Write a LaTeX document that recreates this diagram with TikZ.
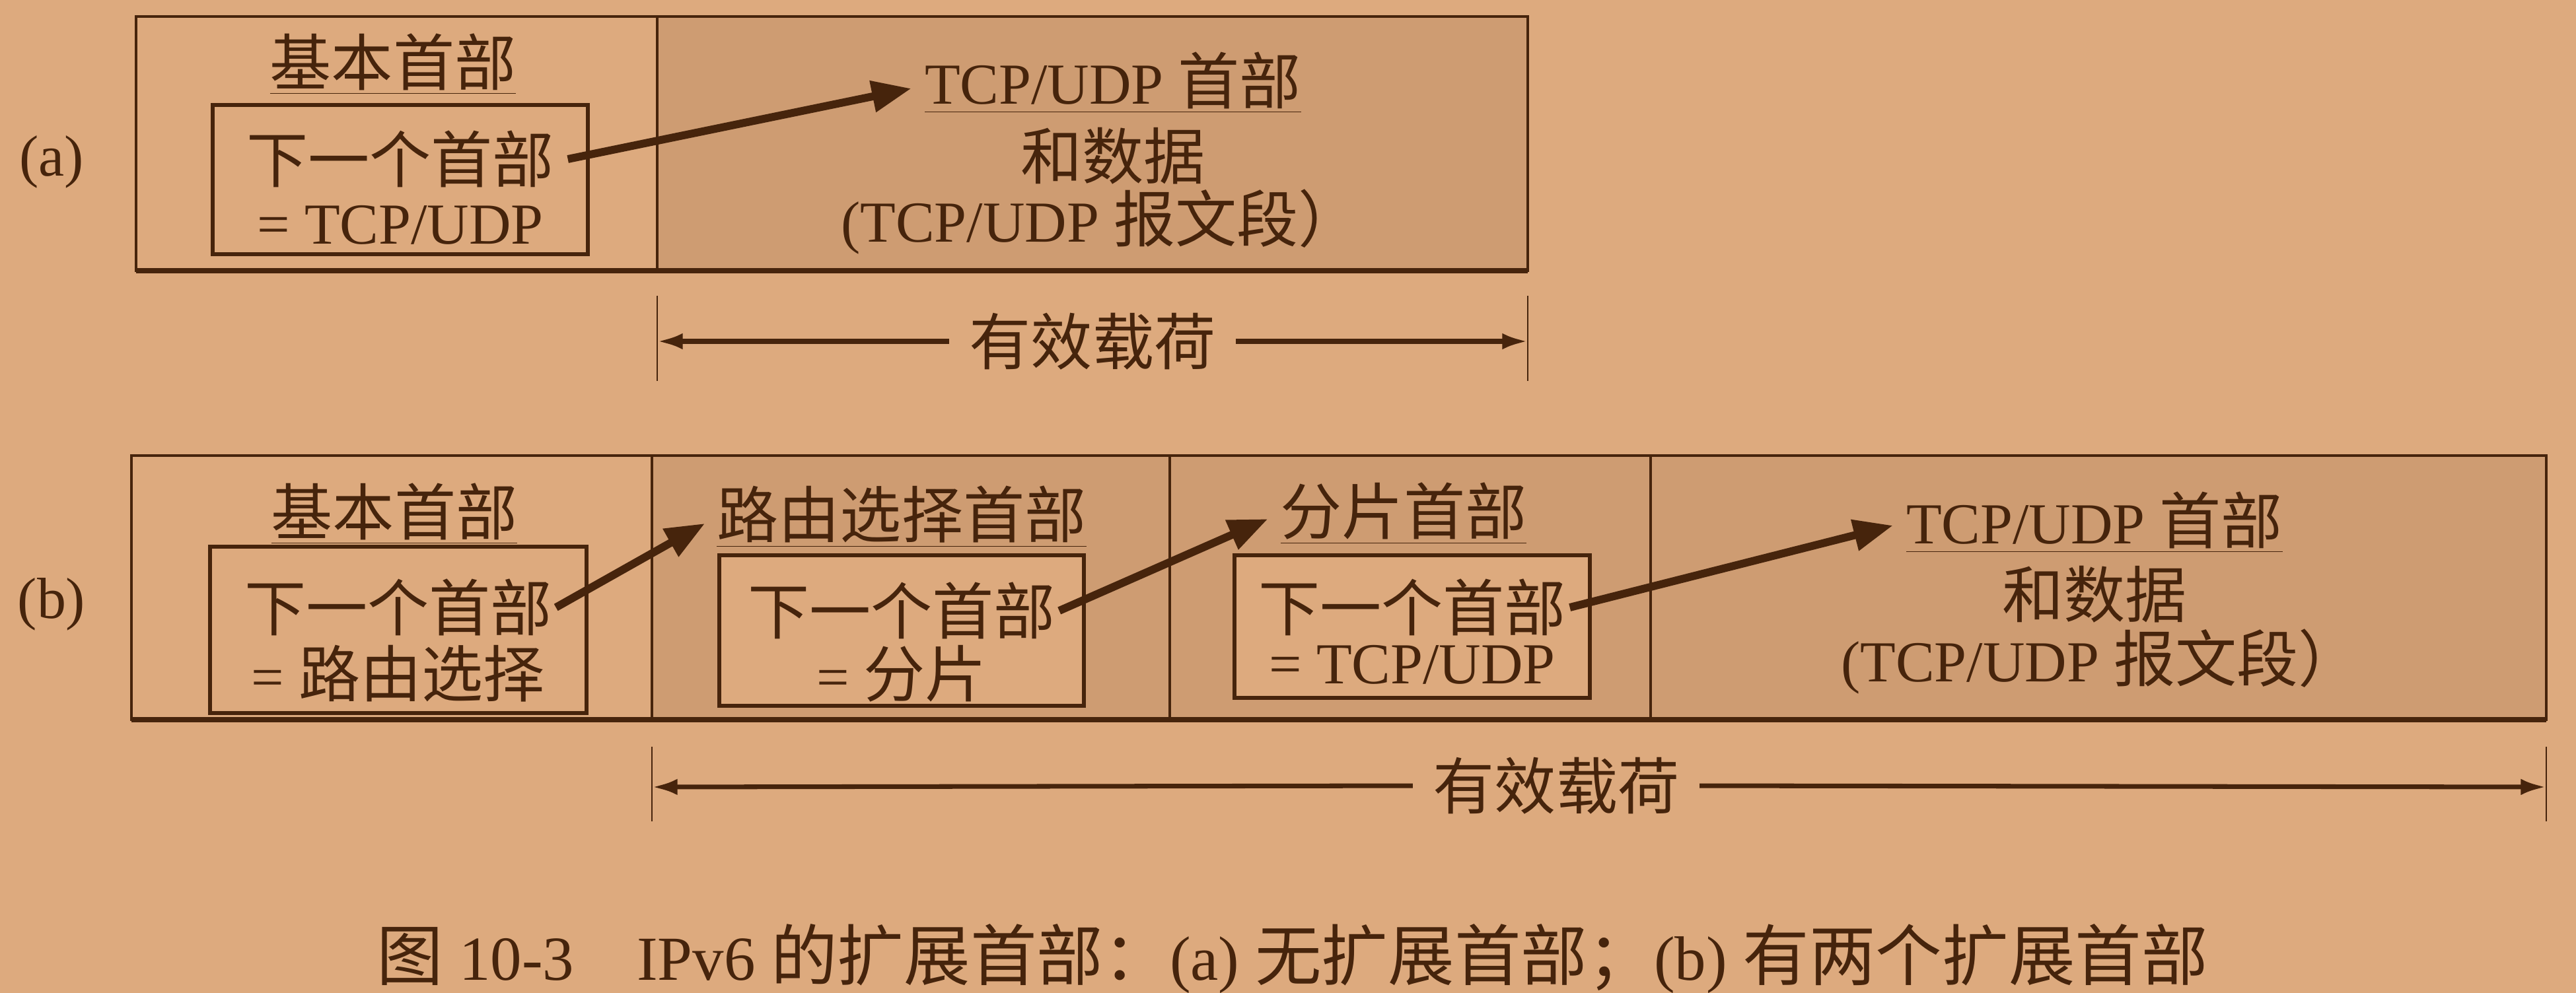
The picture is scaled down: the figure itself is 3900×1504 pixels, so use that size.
\documentclass[tikz,border=0pt]{standalone}
\usepackage{fontspec}
\setmainfont{Liberation Serif}
\newfontfamily\cjk[Scale=1.06]{Noto Sans CJK SC}
\usetikzlibrary{arrows.meta}
\tikzset{every picture/.append style={font=\fontsize{25}{30}\selectfont}}
\definecolor{paper}{RGB}{221,170,126}
\definecolor{screen}{RGB}{206,156,114}
\definecolor{ink}{RGB}{70,36,12}

\begin{document}
\begin{tikzpicture}[x=0.01cm,y=-0.01cm,
    txt/.style={text=ink,inner sep=0pt},
    frame/.style={draw=ink,line width=0.9pt},
    ground/.style={draw=ink,line width=2.4pt},
    nextbox/.style={draw=ink,line width=1.7pt,fill=paper,inner sep=0pt},
    hop/.style={draw=ink,line width=3.4pt,line cap=butt,-{Triangle[length=17pt,width=13pt]},shorten >=0.2cm},
    span/.style={draw=ink,line width=2pt,-{Latex[length=11pt,width=7pt]},shorten <=0.3cm},
    tick/.style={draw=ink,line width=0.6pt}]
    \useasboundingbox[fill=paper] (0,0) rectangle (3900,1504);
    % (a) no extension header
    \fill[screen] (995,25) rectangle (2313,410);
    \draw[frame] (206,25) rectangle (2313,410);
    \draw[frame] (995,25) -- (995,410);
    \draw[ground] (206,410) -- (2313,410);
    \node[txt] (la) at (78,245) {(a)};
    \node[txt] (ha1) at (595,97) {\underline{\cjk 基本首部}};
    \node[nextbox,minimum width=5.67cm,minimum height=2.26cm] (ba1) at (606,272) {};
    \node[txt] (na1) at (606,241) {\cjk 下一个首部};
    \node[txt] (ea1) at (606,341) {= TCP/UDP};
    \node[txt] (ha2) at (1685,125) {\underline{TCP/UDP {\cjk 首部}}};
    \node[txt] (da2) at (1685,236) {\cjk 和数据};
    \node[txt] (sa2) at (1666,336) {(TCP/UDP {\cjk 报文段）}};
    \draw[hop] ([xshift=0.2cm]na1.east) -- ([yshift=-0.05cm]ha2.west);
    % payload (a)
    \draw[tick] (995,448) -- (995,577);
    \draw[tick] (2313,448) -- (2313,577);
    \coordinate (pa-l) at (995,517);
    \coordinate (pa-r) at (2313,517);
    \node[txt] (pla) at (1654,517) {\cjk 有效载荷};
    \draw[span] (pla.west) -- (pa-l);
    \draw[span] (pla.east) -- (pa-r);
    % (b) two extension headers
    \fill[screen] (987,690) rectangle (3855,1090);
    \draw[frame] (199,690) rectangle (3855,1090);
    \foreach \x in {987,1771,2499} {\draw[frame] (\x,690) -- (\x,1090);}
    \draw[ground] (199,1090) -- (3855,1090);
    \node[txt] (lb) at (78,915) {(b)};
    \node[txt] (hb1) at (597,778) {\underline{\cjk 基本首部}};
    \node[nextbox,minimum width=5.70cm,minimum height=2.52cm] (bb1) at (603,954) {};
    \node[txt] (nb1) at (603,920) {\cjk 下一个首部};
    \node[txt] (eb1) at (603,1020) {= {\cjk 路由选择}};
    \node[txt] (hb2) at (1365,783) {\underline{\cjk 路由选择首部}};
    \node[nextbox,minimum width=5.52cm,minimum height=2.28cm] (bb2) at (1365,955) {};
    \node[txt] (nb2) at (1365,925) {\cjk 下一个首部};
    \node[txt] (eb2) at (1365,1020) {= {\cjk 分片}};
    \node[txt] (hb3) at (2125,778) {\underline{\cjk 分片首部}};
    \node[nextbox,minimum width=5.37cm,minimum height=2.16cm] (bb3) at (2138,949) {};
    \node[txt] (nb3) at (2138,920) {\cjk 下一个首部};
    \node[txt] (eb3) at (2138,1007) {= TCP/UDP};
    \node[txt] (hb4) at (3171,791) {\underline{TCP/UDP {\cjk 首部}}};
    \node[txt] (db4) at (3171,900) {\cjk 和数据};
    \node[txt] (sb4) at (3180,1002) {(TCP/UDP {\cjk 报文段）}};
    \draw[hop] ([xshift=0.05cm]nb1.east) -- (hb2.west);
    \draw[hop] ([xshift=0.05cm]nb2.east) -- (hb3.west);
    \draw[hop] ([xshift=0.05cm]nb3.east) -- (hb4.west);
    % payload (b)
    \draw[tick] (987,1131) -- (987,1244);
    \draw[tick] (3855,1131) -- (3855,1244);
    \coordinate (pb-l) at (987,1192);
    \coordinate (pb-r) at (3855,1192);
    \node[txt] (plb) at (2356,1190) {\cjk 有效载荷};
    \draw[span] (plb.west) -- (pb-l);
    \draw[span] (plb.east) -- (pb-r);
    % caption
    \node[txt,font=\fontsize{27}{32}\selectfont] (cap) at (1957,1452)
      {{\cjk 图} 10-3\quad IPv6 {\cjk 的扩展首部：}(a) {\cjk 无扩展首部；}(b) {\cjk 有两个扩展首部}};
\end{tikzpicture}
\end{document}
